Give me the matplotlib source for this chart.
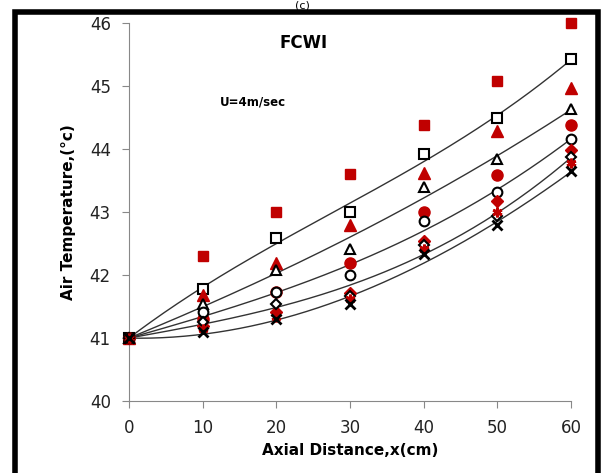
import numpy as np
import matplotlib.pyplot as plt
from matplotlib.patches import Rectangle

# dados
x = [0, 10, 20, 30, 40, 50, 60]

red_square = [41.0, 42.30, 43.00, 43.60, 44.38, 45.08, 46.00]
hol_square = [41.0, 41.78, 42.59, 43.00, 43.92, 44.49, 45.43]
red_triangle = [41.0, 41.68, 42.19, 42.80, 43.62, 44.29, 44.97]
hol_triangle = [41.0, 41.54, 42.08, 42.41, 43.40, 43.84, 44.63]
red_circle = [41.0, 41.30, 41.73, 42.20, 43.00, 43.59, 44.38]
hol_circle = [41.0, 41.42, 41.73, 42.00, 42.86, 43.32, 44.16]
red_diamond = [41.0, 41.20, 41.41, 41.71, 42.54, 43.17, 43.98]
hol_diamond = [41.0, 41.25, 41.54, 41.67, 42.48, 42.94, 43.87]
red_star = [41.0, 41.15, 41.33, 41.62, 42.41, 43.00, 43.78]
black_x = [41.0, 41.10, 41.30, 41.54, 42.33, 42.79, 43.65]

RED = '#C00000'


def tendencia(xs, ys):
    # ajuste cúbico com intercepto fixo no primeiro ponto
    xs = np.asarray(xs, float)
    ys = np.asarray(ys, float)
    A = np.column_stack([xs, xs ** 2, xs ** 3])
    coef = np.linalg.lstsq(A, ys - ys[0], rcond=None)[0]
    xx = np.linspace(xs[0], xs[-1], 200)
    yy = ys[0] + coef[0] * xx + coef[1] * xx ** 2 + coef[2] * xx ** 3
    return xx, yy


fig = plt.figure(figsize=(6.05, 4.73), dpi=100)
ax = fig.add_axes([0.213, 0.152, 0.731, 0.799])

# linhas de tendência pelos marcadores vazados
for ys in (hol_square, hol_triangle, hol_circle, hol_diamond, black_x):
    lx, ly = tendencia(x, ys)
    ax.plot(lx, ly, color='#333333', lw=1.0, zorder=1)

ms = 7
kw = dict(ls='none', zorder=3, clip_on=False)
ax.plot(x, red_square, 's', color=RED, ms=ms, **kw)
ax.plot(x, hol_square, 's', mfc='white', mec='black', mew=1.5, ms=ms, **kw)
ax.plot(x, red_triangle, '^', color=RED, ms=ms + 1, **kw)
ax.plot(x, hol_triangle, '^', mfc='white', mec='black', mew=1.5, ms=ms, **kw)
ax.plot(x, red_circle, 'o', color=RED, ms=ms + 1, **kw)
ax.plot(x, hol_circle, 'o', mfc='white', mec='black', mew=1.5, ms=ms, **kw)
ax.plot(x, red_diamond, 'D', color=RED, ms=ms - 1, **kw)
ax.plot(x, hol_diamond, 'D', mfc='white', mec='black', mew=1.5, ms=ms - 1.5, **kw)
ax.plot(x, red_star, marker=(6, 2, 0), color=RED, mew=2, ms=ms, **kw)
ax.plot(x, black_x, 'x', color='black', mew=2, ms=ms, **kw)

ax.set_xlim(0, 60)
ax.set_ylim(40, 46)
ax.set_xticks(x)
ax.set_yticks(range(40, 47))
ax.spines['top'].set_visible(False)
ax.spines['right'].set_visible(False)
ax.spines['left'].set_color('#888888')
ax.spines['bottom'].set_color('#888888')
ax.tick_params(colors='#888888', labelcolor='#222222', labelsize=12, length=5, pad=8)
ax.set_xlabel('Axial Distance,x(cm)', fontsize=11, fontweight='bold', labelpad=4)
ax.set_ylabel('Air Temperature,(°c)', fontsize=11, fontweight='bold', labelpad=10)

ax.text(20.5, 45.68, 'FCWI', fontsize=12, fontweight='bold', ha='left', va='center')
ax.text(12.3, 44.75, 'U=4m/sec', fontsize=8.5, fontweight='bold', ha='left', va='center')

# título e moldura
fig.text(0.5, 0.977, '(c)', ha='center', va='bottom', fontsize=8)
fig.patches.append(Rectangle((0.025, -0.01), 0.963, 0.985, transform=fig.transFigure,
                             fill=False, lw=4, edgecolor='black'))

plt.savefig('out.png', dpi=100)
